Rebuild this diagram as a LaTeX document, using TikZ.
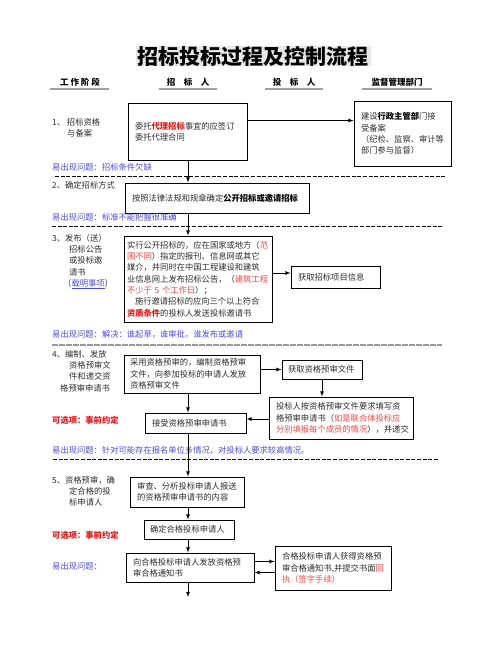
\documentclass[tikz,border=0pt]{standalone}
\usepackage{xcolor}
\usepackage{fontspec}
\setmainfont{Noto Sans CJK SC}
\usepackage{tikz}
\usetikzlibrary{calc}
\definecolor{askblue}{RGB}{75,75,230}
\definecolor{hotred}{RGB}{240,20,20}
\definecolor{softred}{RGB}{250,70,70}
\definecolor{ink}{RGB}{45,45,45}
\newcommand{\bfont}{\fontsize{8.3}{11.3}\selectfont}
\newcommand{\hot}[1]{\textcolor{hotred}{\bfseries #1}}
\newcommand{\soft}[1]{\textcolor{softred}{#1}}

\begin{document}
\begin{tikzpicture}[x=1pt, y=-1pt,
        box/.style={draw, line width=0.9pt, inner sep=0pt, align=left, text=ink, font=\bfont},
        stage/.style={anchor=north west, inner sep=0pt, align=left, text=ink, font=\bfont},
        issue/.style={anchor=west, inner sep=0pt, text=askblue, font=\bfont},
        choice/.style={anchor=west, inner sep=0pt, text=hotred, font=\bfont\bfseries},
        head/.style={inner sep=0pt, font=\fontsize{8.5}{10}\selectfont\bfseries},
        uline/.style={line width=2.4pt, gray!75},
        arr/.style={->, >=latex, line width=0.8pt},
        sep/.style={dashed, line width=0.7pt, dash pattern=on 4pt off 1.6pt}]
    \useasboundingbox (0,0) rectangle (502,649);
    % title and column heads
    \node[fill=gray!18, inner xsep=2pt, inner ysep=0pt, minimum height=20pt,
        font=\fontsize{21}{22}\selectfont\bfseries] (title) at (253,56) {招标投标过程及控制流程};
    \node[head] (hstage) at (80,82) {工\ 作\ 阶\ 段};
    \node[head] (hbid) at (188,82) {招\quad 标\quad 人};
    \node[head] (hoffer) at (294,82) {投\quad 标\quad 人};
    \node[head] (hsup) at (397,82) {监督管理部门};
    \draw[uline] (50,89) -- (109,89);
    \draw[uline] (159,89) -- (217,89);
    \draw[uline] (265,89) -- (323,89);
    \draw[uline] (362,89) -- (432,89);
    \coordinate (spine) at (188,0);

    % stage 1
    \node[stage] (s1) at (52,118) {1、\ 招标资格\\\hspace*{15pt}与备案};
    \node[box, minimum width=119pt, minimum height=57pt, text width=105pt] (agent) at (187.5,131.5)
        {委托\hot{代理招标}事宜的应签订\\委托代理合同};
    \node[box, minimum width=97pt, minimum height=65pt, text width=83pt] (sup) at (402.5,133.5)
        {建设\textbf{\color{black}行政主管部}门接\\受备案\\（纪检、监察、审计等\\部门参与监督）};
    \draw[arr] ([yshift=11pt]agent.east) -- ([yshift=11pt]agent.east -| sup.west);
    \node[issue] (q1) at (52,167) {易出现问题：招标条件欠缺};
    \draw[sep] (55,176) -- (445,176);

    % stage 2
    \node[stage] (s2) at (52,181) {2、确定招标方式};
    \node[box, minimum width=184pt, minimum height=30pt, text width=170pt] (mode) at (217,198)
        {按照法律法规和规章确定\textbf{\color{black}公开招标或邀请招标}};
    \draw[arr] (agent.south -| spine) -- (mode.north -| spine);
    \node[issue] (q2) at (52,217) {易出现问题：标准不能把握很准确};
    \draw[sep] (52,226) -- (443,226);

    % stage 3
    \node[stage] (s3) at (52,234) {3、发布（送）\\\hspace*{17pt}招标公告\\\hspace*{17pt}或投标邀\\\hspace*{17pt}请书\\\hspace*{11pt}（\textcolor{askblue}{\underline{载明事项}}）};
    \node[box, minimum width=148pt, minimum height=86pt, text width=142pt] (pub) at (198,279)
        {实行公开招标的，应在国家或地方（\soft{范}\\\soft{围不同}）指定的报刊、信息网或其它\\媒介，并同时在中国工程建设和建筑\\业信息网上发布招标公告，（\soft{建筑工程}\\\soft{不少于 5 个工作日}）；\\\hspace*{8pt}施行邀请招标的应向三个以上符合\\\hot{资质条件}的投标人发送投标邀请书};
    \draw[arr] (mode.south -| spine) -- (pub.north -| spine);
    \node[box, minimum width=89pt, minimum height=22pt, text width=75pt] (info) at (335.5,277) {获取招标项目信息};
    \draw[arr] ([yshift=4pt]info.west -| pub.east) -- ([yshift=4pt]info.west);
    \node[issue] (q3) at (52,334) {易出现问题：解决：谁起草，谁审批，谁发布或邀请};
    \draw[sep, gray!80, line width=1.2pt, dash pattern=on 6pt off 1pt] (52,345) -- (442,345);

    % stage 4
    \node[stage] (s4) at (52,350) {4、编制、发放\\\hspace*{17pt}资格预审文\\\hspace*{17pt}件和递交资\\\hspace*{8pt}格预审申请书};
    \node[box, minimum width=136pt, minimum height=38pt, text width=124pt] (prep) at (192,374)
        {采用资格预审的，编制资格预审\\文件，向参加投标的申请人发放\\资格预审文件};
    \node[box, minimum width=80pt, minimum height=19pt, text width=68pt] (doc) at (322,369.5) {获取资格预审文件};
    \draw[arr] (prep.east |- doc.west) -- (doc.west);
    \node[box, minimum width=144pt, minimum height=42pt, text width=130pt] (apply) at (341,418)
        {投标人按资格预审文件要求填写资\\格预审申请书（\soft{如是联合体投标应}\\\soft{分别填报每个成员的情况}），并递交};
    \draw[arr] (doc.south) -- (doc.south |- apply.north);
    \node[box, minimum width=101pt, minimum height=20pt, text width=87pt] (take) at (195.5,423) {接受资格预审申请书};
    \draw[arr] ([yshift=4pt]take.east -| apply.west) -- ([yshift=4pt]take.east);
    \draw[arr] (prep.south -| spine) -- (take.north -| spine);
    \node[choice] (c1) at (52,420) {可选项：事前约定};
    \node[issue] (q4) at (52,450) {易出现问题：针对可能存在报名单位多情况，对投标人要求较高情况。};
    \draw[sep] (53,459) -- (438,459);

    % stage 5
    \node[stage] (s5) at (52,476) {5、资格预审，确\\\hspace*{17pt}定合格的投\\\hspace*{17pt}标申请人};
    \node[box, minimum width=114pt, minimum height=30pt, text width=100pt] (check) at (187,492)
        {审查、分析投标申请人报送\\的资格预审申请书的内容};
    \draw[arr] (take.south -| spine) -- (check.north -| spine);
    \node[box, minimum width=90pt, minimum height=19pt, text width=78pt] (pass) at (189,529.5) {确定合格投标申请人};
    \draw[arr] (check.south -| spine) -- (pass.north -| spine);
    \node[choice] (c2) at (52,535) {可选项：事前约定};
    \node[box, minimum width=128pt, minimum height=29pt, text width=114pt] (notice) at (190,567.5)
        {向合格投标申请人发放资格预\\审合格通知书};
    \draw[arr] (pass.south -| spine) -- (notice.north -| spine);
    \node[box, minimum width=116pt, minimum height=44pt, text width=102pt] (reply) at (333,568)
        {合格投标申请人获得资格预\\审合格通知书,并提交书面\soft{回}\\\soft{执（签字手续）}};
    \node[issue] (q5) at (52,566) {易出现问题：};
    \draw[arr] ([yshift=6pt]notice.east) -- ([yshift=6pt]notice.east -| reply.west);
    \draw[arr] ([yshift=-5pt]notice.east -| reply.west) -- ([yshift=-5pt]notice.east);
    \coordinate (next) at (188,597);
    \draw[arr] (notice.south -| spine) -- (next);
\end{tikzpicture}
\end{document}
